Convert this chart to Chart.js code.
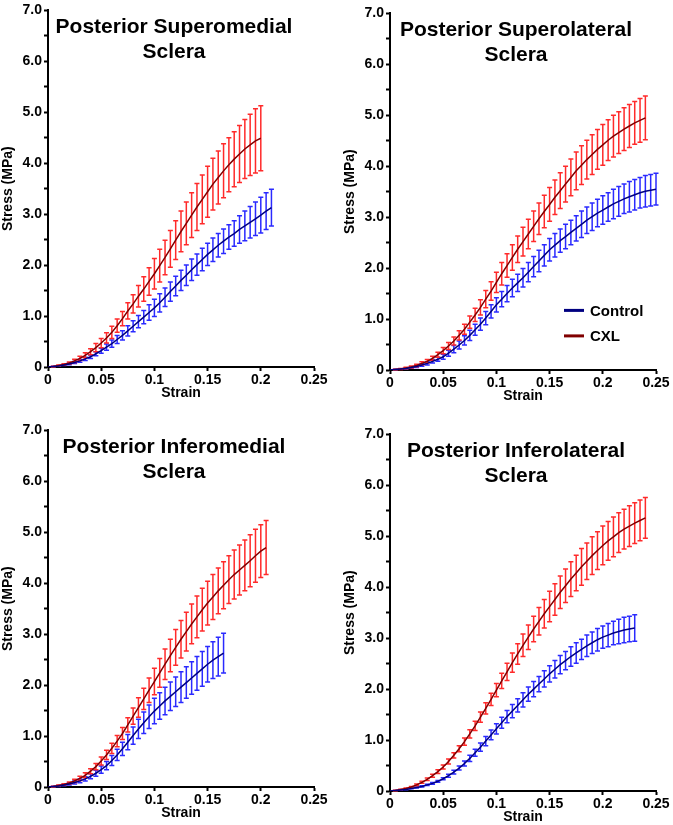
<!DOCTYPE html>
<html lang="en">
<head>
  <meta charset="UTF-8" />
  <title>Stress-Strain Curves</title>
  <script src="https://cdn.jsdelivr.net/npm/chart.js"></script>
  <style>
    body {
      margin: 0;
      background: white;
      overflow: hidden;
      width: 673px;
      height: 825px;
      position: relative;
    }
    canvas {
      position: absolute;
    }
    #p1 { left: 0; top: 0; }
    #p2 { left: 342px; top: 3px; }
    #p3 { left: 0; top: 420px; }
    #p4 { left: 342px; top: 424px; }
  </style>
</head>
<body>
  <canvas id="p1" width="336" height="405"></canvas>
  <canvas id="p2" width="336" height="405"></canvas>
  <canvas id="p3" width="336" height="405"></canvas>
  <canvas id="p4" width="336" height="405"></canvas>

  <script>
    // strain steps where the error bars sit
    const strain = [0, 0.005, 0.01, 0.015, 0.02, 0.025, 0.03, 0.035, 0.04, 0.045,
      0.05, 0.055, 0.06, 0.065, 0.07, 0.075, 0.08, 0.085, 0.09, 0.095,
      0.1, 0.105, 0.11, 0.115, 0.12, 0.125, 0.13, 0.135, 0.14, 0.145,
      0.15, 0.155, 0.16, 0.165, 0.17, 0.175, 0.18, 0.185, 0.19, 0.195,
      0.2, 0.205, 0.21, 0.215, 0.22, 0.225, 0.23, 0.235, 0.24, 0.245, 0.25];

    const xTicks = [0, 0.05, 0.1, 0.15, 0.2, 0.25];
    const yTickLabels = ['0', '1.0', '2.0', '3.0', '4.0', '5.0', '6.0', '7.0'];
    const seriesNames = ['Control', 'CXL'];

    // Posterior Superomedial
    const supMedControl = [0, 0.01, 0.02, 0.04, 0.06, 0.09, 0.12, 0.16, 0.20, 0.26,
      0.32, 0.39, 0.46, 0.54, 0.62, 0.71, 0.80, 0.89, 0.98, 1.07,
      1.16, 1.26, 1.37, 1.48, 1.59, 1.70, 1.80, 1.91, 2.01, 2.11,
      2.21, 2.30, 2.39, 2.47, 2.55, 2.62, 2.70, 2.77, 2.84, 2.91,
      2.98, 3.06, 3.13];
    const supMedControlSD = [0, 0.003, 0.006, 0.01, 0.015, 0.02, 0.025, 0.03, 0.035, 0.04,
      0.05, 0.06, 0.07, 0.08, 0.09, 0.10, 0.11, 0.12, 0.13, 0.15,
      0.17, 0.18, 0.18, 0.19, 0.19, 0.20, 0.20, 0.21, 0.21, 0.22,
      0.22, 0.23, 0.23, 0.24, 0.24, 0.25, 0.27, 0.29, 0.31, 0.33,
      0.35, 0.36, 0.36];
    const supMedCXL = [0, 0.01, 0.03, 0.05, 0.08, 0.12, 0.17, 0.23, 0.30, 0.38,
      0.47, 0.57, 0.68, 0.81, 0.95, 1.10, 1.24, 1.39, 1.53, 1.68,
      1.83, 1.99, 2.15, 2.32, 2.49, 2.66, 2.82, 2.98, 3.14, 3.29,
      3.44, 3.59, 3.72, 3.85, 3.97, 4.08, 4.18, 4.28, 4.36, 4.44,
      4.49];
    const supMedCXLSD = [0, 0.005, 0.01, 0.015, 0.02, 0.03, 0.04, 0.05, 0.06, 0.08,
      0.09, 0.10, 0.12, 0.13, 0.14, 0.16, 0.18, 0.21, 0.24, 0.27,
      0.30, 0.32, 0.34, 0.36, 0.38, 0.40, 0.42, 0.44, 0.46, 0.48,
      0.50, 0.51, 0.52, 0.53, 0.53, 0.54, 0.56, 0.58, 0.60, 0.63,
      0.64];

    // Posterior Superolateral
    const supLatControl = [0, 0.01, 0.02, 0.03, 0.05, 0.07, 0.10, 0.13, 0.17, 0.21,
      0.26, 0.33, 0.41, 0.49, 0.58, 0.68, 0.79, 0.90, 1.02, 1.15,
      1.28, 1.39, 1.50, 1.61, 1.71, 1.81, 1.92, 2.03, 2.14, 2.25,
      2.36, 2.45, 2.54, 2.62, 2.70, 2.78, 2.86, 2.94, 3.01, 3.08,
      3.14, 3.20, 3.26, 3.31, 3.36, 3.40, 3.44, 3.48, 3.51, 3.53,
      3.55];
    const supLatControlSD = [0, 0.003, 0.006, 0.01, 0.015, 0.02, 0.025, 0.03, 0.035, 0.04,
      0.05, 0.06, 0.07, 0.08, 0.09, 0.10, 0.11, 0.12, 0.13, 0.13,
      0.14, 0.15, 0.16, 0.17, 0.17, 0.18, 0.19, 0.20, 0.21, 0.21,
      0.22, 0.23, 0.23, 0.24, 0.24, 0.25, 0.26, 0.26, 0.27, 0.27,
      0.28, 0.28, 0.29, 0.29, 0.29, 0.30, 0.30, 0.30, 0.31, 0.31,
      0.31];
    const supLatCXL = [0, 0.01, 0.02, 0.04, 0.06, 0.09, 0.13, 0.17, 0.23, 0.30,
      0.38, 0.47, 0.57, 0.68, 0.80, 0.94, 1.08, 1.23, 1.39, 1.55,
      1.72, 1.89, 2.05, 2.21, 2.37, 2.52, 2.67, 2.82, 2.97, 3.11,
      3.25, 3.39, 3.52, 3.65, 3.78, 3.91, 4.02, 4.13, 4.23, 4.33,
      4.42, 4.51, 4.59, 4.66, 4.73, 4.79, 4.85, 4.90, 4.95];
    const supLatCXLSD = [0, 0.005, 0.01, 0.015, 0.02, 0.025, 0.03, 0.035, 0.04, 0.05,
      0.06, 0.07, 0.08, 0.09, 0.10, 0.12, 0.13, 0.15, 0.17, 0.18,
      0.20, 0.22, 0.23, 0.25, 0.26, 0.28, 0.29, 0.30, 0.31, 0.32,
      0.33, 0.34, 0.35, 0.35, 0.36, 0.37, 0.38, 0.38, 0.39, 0.39,
      0.40, 0.40, 0.41, 0.41, 0.42, 0.42, 0.42, 0.43, 0.43];

    // Posterior Inferomedial
    const infMedControl = [0, 0.01, 0.02, 0.04, 0.06, 0.09, 0.12, 0.16, 0.21, 0.27,
      0.34, 0.42, 0.52, 0.63, 0.75, 0.88, 1.01, 1.14, 1.26, 1.38,
      1.49, 1.59, 1.69, 1.78, 1.87, 1.96, 2.05, 2.14, 2.23, 2.32,
      2.41, 2.49, 2.56, 2.63];
    const infMedControlSD = [0, 0.005, 0.01, 0.015, 0.02, 0.03, 0.035, 0.04, 0.05, 0.06,
      0.07, 0.08, 0.10, 0.11, 0.13, 0.15, 0.17, 0.19, 0.21, 0.23,
      0.25, 0.26, 0.27, 0.28, 0.29, 0.30, 0.31, 0.32, 0.33, 0.34,
      0.35, 0.36, 0.38, 0.39];
    const infMedCXL = [0, 0.01, 0.03, 0.05, 0.08, 0.12, 0.17, 0.23, 0.31, 0.40,
      0.51, 0.63, 0.76, 0.90, 1.05, 1.22, 1.39, 1.56, 1.73, 1.90,
      2.07, 2.24, 2.41, 2.58, 2.74, 2.90, 3.05, 3.20, 3.34, 3.48,
      3.61, 3.73, 3.85, 3.96, 4.07, 4.17, 4.26, 4.35, 4.44, 4.54,
      4.63, 4.70];
    const infMedCXLSD = [0, 0.005, 0.01, 0.015, 0.02, 0.03, 0.04, 0.05, 0.05, 0.06,
      0.08, 0.09, 0.10, 0.11, 0.12, 0.14, 0.16, 0.19, 0.21, 0.24,
      0.26, 0.28, 0.30, 0.32, 0.35, 0.37, 0.38, 0.39, 0.41, 0.42,
      0.43, 0.44, 0.45, 0.46, 0.47, 0.48, 0.49, 0.50, 0.51, 0.52,
      0.52, 0.53];

    // Posterior Inferolateral
    const infLatControl = [0, 0.01, 0.02, 0.03, 0.05, 0.07, 0.09, 0.12, 0.15, 0.19,
      0.24, 0.30, 0.37, 0.45, 0.54, 0.64, 0.75, 0.86, 0.98, 1.10,
      1.22, 1.34, 1.46, 1.57, 1.68, 1.79, 1.90, 2.00, 2.10, 2.20,
      2.30, 2.39, 2.48, 2.56, 2.64, 2.71, 2.78, 2.85, 2.91, 2.97,
      3.02, 3.06, 3.10, 3.13, 3.16, 3.18, 3.20];
    const infLatControlSD = [0, 0.002, 0.004, 0.006, 0.008, 0.01, 0.012, 0.014, 0.016, 0.018,
      0.02, 0.03, 0.035, 0.04, 0.05, 0.06, 0.07, 0.08, 0.09, 0.095,
      0.10, 0.11, 0.12, 0.13, 0.13, 0.14, 0.14, 0.15, 0.15, 0.16,
      0.16, 0.17, 0.18, 0.18, 0.19, 0.20, 0.20, 0.21, 0.21, 0.22,
      0.22, 0.23, 0.23, 0.24, 0.25, 0.25, 0.26];
    const infLatCXL = [0, 0.01, 0.03, 0.05, 0.08, 0.12, 0.17, 0.23, 0.30, 0.38,
      0.47, 0.58, 0.70, 0.83, 0.97, 1.12, 1.28, 1.45, 1.62, 1.80,
      1.98, 2.16, 2.34, 2.52, 2.69, 2.86, 3.02, 3.18, 3.33, 3.48,
      3.62, 3.76, 3.90, 4.03, 4.16, 4.28, 4.40, 4.51, 4.62, 4.72,
      4.82, 4.91, 4.99, 5.07, 5.14, 5.20, 5.26, 5.31, 5.36];
    const infLatCXLSD = [0, 0.003, 0.005, 0.008, 0.01, 0.015, 0.02, 0.025, 0.03, 0.035,
      0.04, 0.05, 0.05, 0.06, 0.07, 0.08, 0.09, 0.10, 0.11, 0.12,
      0.13, 0.15, 0.17, 0.19, 0.20, 0.22, 0.24, 0.25, 0.27, 0.28,
      0.30, 0.31, 0.32, 0.33, 0.34, 0.35, 0.36, 0.36, 0.37, 0.37,
      0.38, 0.38, 0.39, 0.39, 0.39, 0.40, 0.40, 0.40, 0.40];

    const FONT = "'Liberation Sans', Arial, sans-serif";
    Chart.defaults.color = '#000';
    Chart.defaults.font.family = FONT;

    // error bars (drawn under the mean lines)
    const errorBars = {
      id: 'errorBars',
      beforeDatasetsDraw(chart) {
        const ctx = chart.ctx;
        const x = chart.scales.x, y = chart.scales.y;
        chart.data.datasets.forEach(ds => {
          ctx.save();
          ctx.strokeStyle = ds.barColor;
          ctx.lineWidth = 1.5;
          ds.data.forEach((p, i) => {
            const e = ds.sd[i];
            if (!e) return;
            const px = x.getPixelForValue(p.x);
            const top = y.getPixelForValue(p.y + e);
            const bot = y.getPixelForValue(p.y - e);
            ctx.beginPath();
            ctx.moveTo(px, top); ctx.lineTo(px, bot);
            ctx.moveTo(px - 2.5, top); ctx.lineTo(px + 2.5, top);
            ctx.moveTo(px - 2.5, bot); ctx.lineTo(px + 2.5, bot);
            ctx.stroke();
          });
          ctx.restore();
        });
      }
    };

    // two-line bold title inside the plot, plus optional legend
    const panelText = {
      id: 'panelText',
      afterDraw(chart, args, opts) {
        const ctx = chart.ctx;
        const a = chart.chartArea;
        const cx = (a.left + a.right) / 2 - 7;
        ctx.save();
        ctx.fillStyle = '#000';
        ctx.textAlign = 'center';
        ctx.textBaseline = 'middle';
        ctx.font = 'bold 21px ' + FONT;
        (opts.lines || []).forEach((t, i) => ctx.fillText(t, cx, a.top + 17 + i * 25));
        if (opts.legend) {
          ctx.textAlign = 'left';
          ctx.font = 'bold 15px ' + FONT;
          chart.data.datasets.forEach((ds, i) => {
            const ly = a.top + 297 + i * 25.5;
            const lx = a.left + 174;
            ctx.strokeStyle = ds.borderColor;
            ctx.lineWidth = 3;
            ctx.beginPath();
            ctx.moveTo(lx, ly); ctx.lineTo(lx + 20, ly);
            ctx.stroke();
            ctx.fillText(ds.label, lx + 26, ly + 1);
          });
        }
        ctx.restore();
      }
    };

    function points(values) {
      return values.map((v, i) => ({ x: strain[i], y: v }));
    }

    function makePanel(id, lines, control, controlSD, cxl, cxlSD, legend) {
      const tickFont = { size: 14, weight: 'bold', family: FONT };
      new Chart(document.getElementById(id), {
        type: 'line',
        data: {
          datasets: [
            {
              label: seriesNames[0],
              data: points(control),
              sd: controlSD,
              borderColor: '#000080',
              barColor: '#2a2aff',
              borderWidth: 1.5,
              pointRadius: 0,
              tension: 0
            },
            {
              label: seriesNames[1],
              data: points(cxl),
              sd: cxlSD,
              borderColor: '#800000',
              barColor: '#ff2a2a',
              borderWidth: 1.5,
              pointRadius: 0,
              tension: 0
            }
          ]
        },
        options: {
          responsive: false,
          animation: false,
          layout: { padding: { left: 0, top: 7, right: 22, bottom: 0 } },
          plugins: {
            legend: { display: false },
            tooltip: { enabled: false },
            panelText: { lines: lines, legend: legend }
          },
          scales: {
            x: {
              type: 'linear',
              min: 0,
              max: 0.25,
              afterFit: s => { s.height = 38; },
              afterBuildTicks: s => { s.ticks = xTicks.map(v => ({ value: v })); },
              ticks: {
                font: tickFont,
                padding: 1,
                autoSkip: false,
                maxRotation: 0,
                callback: v => String(Number(v.toFixed(2)))
              },
              grid: { drawOnChartArea: false, tickLength: 4, color: '#000', tickWidth: 2 },
              border: { color: '#000', width: 2 },
              title: { display: true, text: 'Strain', font: tickFont, padding: { top: 0, bottom: 3 } }
            },
            y: {
              min: 0,
              max: 7,
              afterFit: s => { s.width = 48; },
              ticks: {
                stepSize: 0.5,
                font: tickFont,
                padding: 2,
                autoSkip: false,
                callback: v => (v % 1 === 0 ? yTickLabels[v] : '')
              },
              grid: { drawOnChartArea: false, tickLength: 4, color: '#000', tickWidth: 2 },
              border: { color: '#000', width: 2 },
              title: { display: true, text: 'Stress (MPa)', font: tickFont, padding: { top: 0, bottom: 0 } }
            }
          }
        },
        plugins: [errorBars, panelText]
      });
    }

    makePanel('p1', ['Posterior Superomedial', 'Sclera'], supMedControl, supMedControlSD, supMedCXL, supMedCXLSD, false);
    makePanel('p2', ['Posterior Superolateral', 'Sclera'], supLatControl, supLatControlSD, supLatCXL, supLatCXLSD, true);
    makePanel('p3', ['Posterior Inferomedial', 'Sclera'], infMedControl, infMedControlSD, infMedCXL, infMedCXLSD, false);
    makePanel('p4', ['Posterior Inferolateral', 'Sclera'], infLatControl, infLatControlSD, infLatCXL, infLatCXLSD, false);
  </script>
</body>
</html>
